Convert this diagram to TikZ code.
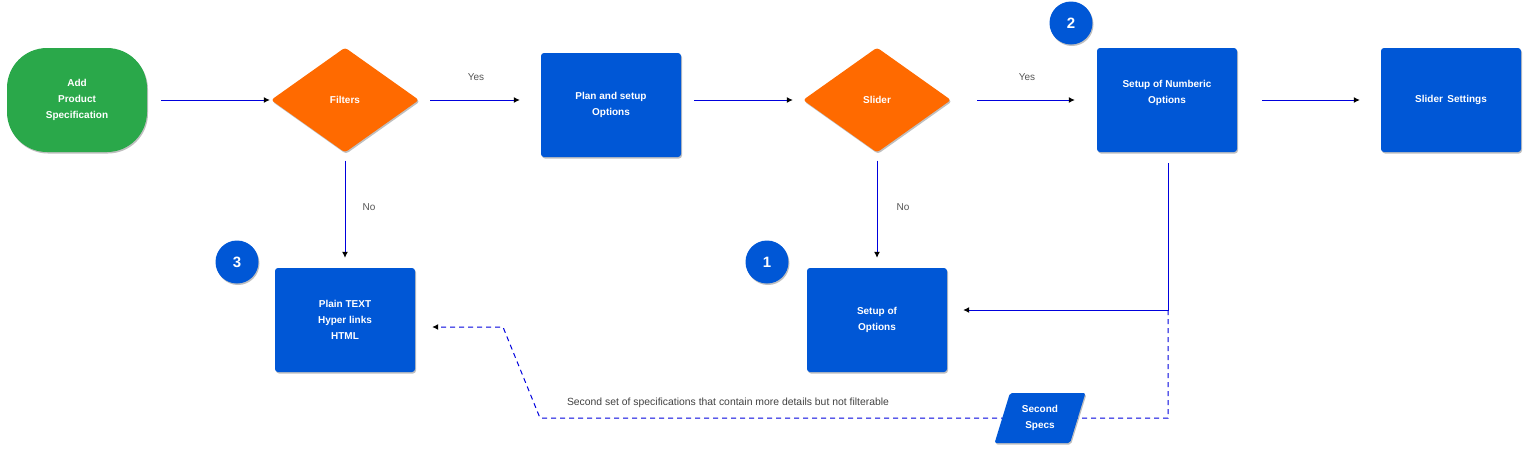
\documentclass[tikz,border=0pt]{standalone}
\usepackage{fontspec}
\setmainfont{Liberation Sans}
\usetikzlibrary{arrows.meta,shapes.geometric,shadows,backgrounds}
\definecolor{boxblue}{HTML}{0057D6}
\definecolor{dorange}{HTML}{FF6A00}
\definecolor{dgreen}{HTML}{2AA84A}
\definecolor{lineblue}{HTML}{0000DD}
\definecolor{lblgray}{HTML}{555555}
\tikzset{
  shd/.style={drop shadow={shadow xshift=1pt,shadow yshift=-1.5pt,opacity=0.25,fill=black}},
  txt/.style={text=white,font=\bfseries\fontsize{10}{16}\selectfont,align=center},
  bluebox/.style={rectangle,fill=boxblue,rounded corners=3pt,minimum width=140pt,minimum height=104pt,inner sep=0pt,shd,txt},
  decision/.style={diamond,fill=dorange,rounded corners=3pt,minimum width=148pt,minimum height=105pt,inner sep=0pt,shd,txt},
  startbox/.style={rectangle,fill=dgreen,rounded corners=40pt,minimum width=140pt,minimum height=104pt,inner sep=0pt,shd,txt},
  badge/.style={circle,fill=boxblue,minimum size=43pt,inner sep=0pt,shd,text=white,font=\bfseries\fontsize{15}{18}\selectfont},
  conn/.style={draw=lineblue,line width=1pt,-{Latex[black,length=6pt,width=6pt]}},
  dconn/.style={conn,dash pattern=on 5pt off 4pt},
  lbl/.style={text=lblgray,font=\fontsize{10}{12}\selectfont}
}
\begin{document}
\begin{tikzpicture}[x=1pt,y=-1pt]
\useasboundingbox (0,0) rectangle (1524,448);
\node[startbox] (add) at (77,100) {Add\\Product\\Specification};
\node[decision] (filters) at (345,100) {Filters};
\node[bluebox] (plan) at (611,105) {Plan and setup\\Options};
\node[decision] (slider) at (877,100) {Slider};
\node[bluebox] (num) at (1167,100) {Setup of Numberic\\Options\\ };
\node[bluebox] (sset) at (1451,100) {Slider\, Settings};
\node[bluebox] (plain) at (345,320) {Plain TEXT\\Hyper links\\HTML};
\node[bluebox] (sopt) at (877,320) {Setup of\\Options};
\node[trapezium,trapezium left angle=70,trapezium right angle=110,trapezium stretches=true,minimum width=91pt,minimum height=50pt,inner sep=0pt,fill=boxblue,rounded corners=2pt,shd,txt] (specs) at (1040,418) {Second\\Specs};
\node[badge] (b2) at (1071,23) {2};
\node[badge] (b3) at (237,262) {3};
\node[badge] (b1) at (767,262) {1};
\node[lbl] (yes1) at (476,77) {Yes};
\node[lbl] (yes2) at (1027,77) {Yes};
\node[lbl] (no1) at (369,207) {No};
\node[lbl] (no2) at (903,207) {No};
\node[lbl,text=black!75,font=\fontsize{10.4}{12}\selectfont] (note) at (728,403) {Second set of specifications that contain more details but not filterable};
\coordinate (j1) at (1168,310);
\coordinate (j2) at (1168,418);
\coordinate (j3) at (540,418);
\coordinate (j4) at (503,327);
\begin{scope}[on background layer]
\draw[conn] ([xshift=14pt]add.east) -- ([xshift=-1pt]filters.west);
\draw[conn] ([xshift=11pt]filters.east) -- ([xshift=-21pt]filters.east -| plan.west);
\draw[conn] ([xshift=13pt]plan.east |- slider.west) -- ([xshift=-10pt]slider.west);
\draw[conn] ([xshift=26pt]slider.east) -- ([xshift=-22pt]num.west);
\draw[conn] ([xshift=25pt]num.east) -- ([xshift=-21pt]sset.west);
\draw[conn] ([yshift=-8pt]filters.south) -- ([yshift=10pt]plain.north);
\draw[conn] ([yshift=-8pt]slider.south) -- ([yshift=10pt]sopt.north);
\draw[conn] ([xshift=1pt,yshift=-11pt]num.south) -- (j1) -- ([xshift=16pt]j1 -| sopt.east);
\draw[dconn] (j1) -- (j2) -- (j3) -- (j4) -- ([xshift=17pt]j4 -| plain.east);
\end{scope}
\end{tikzpicture}
\end{document}
